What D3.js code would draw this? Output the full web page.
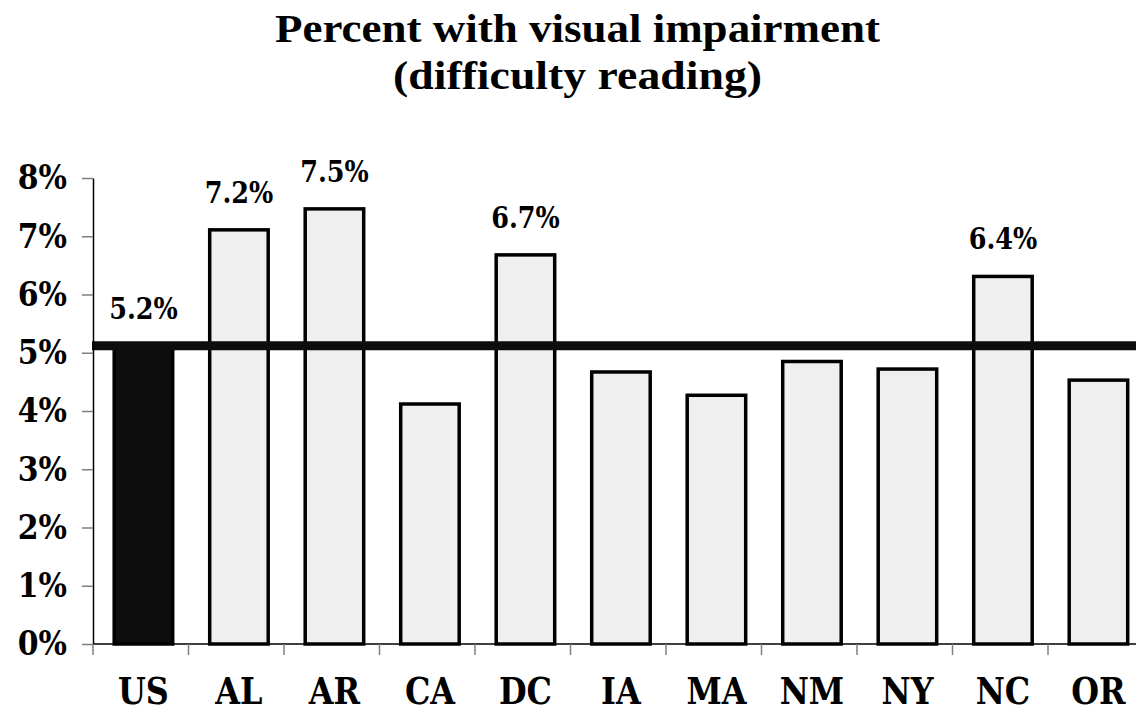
<!DOCTYPE html>
<html>
<head>
<meta charset="utf-8">
<script src="https://cdn.jsdelivr.net/npm/d3@7"></script>
<style>
  body { margin: 0; background: #fff; }
  svg { display: block; }
</style>
</head>
<body>
<div id="chart"></div>
<script>
// Data
var categories = ["US", "AL", "AR", "CA", "DC", "IA", "MA", "NM", "NY", "NC", "OR"];
var values = [5.12, 7.11, 7.47, 4.12, 6.68, 4.67, 4.27, 4.85, 4.72, 6.31, 4.53];
var valueLabels = ["5.2%", "7.2%", "7.5%", "", "6.7%", "", "", "", "", "6.4%", ""];
var usLevel = 5.12;
var yTicks = [0, 1, 2, 3, 4, 5, 6, 7, 8];
var titleLines = ["Percent with visual impairment", "(difficulty reading)"];

var width = 1136, height = 713;
var squeeze = 0.88; // the fonts in the picture are narrow and tall
var squeezeCat = 0.84;

var svg = d3.select("#chart").append("svg")
    .attr("width", width)
    .attr("height", height);

// Title
var title = svg.append("g").attr("class", "title");
title.append("text")
    .attr("x", 577.5).attr("y", 42)
    .attr("text-anchor", "middle")
    .attr("textLength", 605).attr("lengthAdjust", "spacingAndGlyphs")
    .style("font-family", "'Liberation Serif', serif")
    .style("font-weight", "bold")
    .style("font-size", "39px")
    .text(titleLines[0]);
title.append("text")
    .attr("x", 577.5).attr("y", 89)
    .attr("text-anchor", "middle")
    .attr("textLength", 369).attr("lengthAdjust", "spacingAndGlyphs")
    .style("font-family", "'Liberation Serif', serif")
    .style("font-weight", "bold")
    .style("font-size", "39px")
    .text(titleLines[1]);

// Scales
var x = d3.scaleBand()
    .domain(categories)
    .range([93, 1143.5])
    .padding(0);

var y = d3.scaleLinear()
    .domain([0, 8])
    .range([644, 178]);

var barW = 58.5;
var barShift = 2.7;
function barX(d) { return x(d) + (x.bandwidth() - barW) / 2 + barShift; }

// Bars
svg.append("g").selectAll("rect")
    .data(categories)
  .enter().append("rect")
    .attr("x", function(d) { return barX(d); })
    .attr("y", function(d, i) { return y(values[i]); })
    .attr("width", barW)
    .attr("height", function(d, i) { return y(0) - y(values[i]); })
    .attr("fill", function(d, i) { return i === 0 ? "#0d0d0d" : "#efefef"; })
    .attr("stroke", "#000")
    .attr("stroke-width", 3.5);

// US reference line
svg.append("line")
    .attr("x1", x.range()[0] - 1)
    .attr("x2", width)
    .attr("y1", y(usLevel))
    .attr("y2", y(usLevel))
    .attr("stroke", "#0d0d0d")
    .attr("stroke-width", 9);

// Value labels
svg.append("g").selectAll("text")
    .data(categories)
  .enter().append("text")
    .attr("transform", function(d, i) {
      return "translate(" + (barX(d) + barW / 2) + "," + (y(values[i]) - 27) + ") scale(" + squeeze + ",1)";
    })
    .attr("text-anchor", "middle")
    .style("font-family", "'DejaVu Serif', serif")
    .style("font-weight", "bold")
    .style("font-size", "29px")
    .text(function(d, i) { return valueLabels[i]; });

// Y axis
var yAxis = svg.append("g")
    .attr("transform", "translate(" + x.range()[0] + ",0)")
    .call(d3.axisLeft(y)
      .tickValues(yTicks)
      .tickFormat(function(d) { return d + "%"; })
      .tickSize(11)
      .tickPadding(15)
      .tickSizeOuter(0));
yAxis.select(".domain").attr("stroke", "#000").attr("stroke-width", 1.5);
yAxis.selectAll(".tick line").attr("stroke", "#7f7f7f").attr("stroke-width", 1.5);
yAxis.selectAll(".tick text")
    .attr("x", -26 / squeeze)
    .attr("transform", "scale(" + squeeze + ",1)")
    .attr("fill", "#000")
    .style("font-family", "'DejaVu Serif', serif")
    .style("font-weight", "bold")
    .style("font-size", "34px");

// X axis: baseline, boundary ticks and labels
var xAxis = svg.append("g")
    .attr("transform", "translate(0," + y(0) + ")");
xAxis.append("line")
    .attr("x1", x.range()[0])
    .attr("x2", width)
    .attr("stroke", "#000")
    .attr("stroke-width", 1.5);
xAxis.selectAll(".bound")
    .data(categories)
  .enter().append("line")
    .attr("class", "bound")
    .attr("x1", function(d) { return x(d); })
    .attr("x2", function(d) { return x(d); })
    .attr("y1", 0)
    .attr("y2", 11)
    .attr("stroke", "#7f7f7f")
    .attr("stroke-width", 1.5);
xAxis.selectAll(".cat")
    .data(categories)
  .enter().append("text")
    .attr("class", "cat")
    .attr("transform", function(d) {
      return "translate(" + (barX(d) + barW / 2) + ",60) scale(" + squeezeCat + ",1)";
    })
    .attr("text-anchor", "middle")
    .style("font-family", "'DejaVu Serif', serif")
    .style("font-weight", "bold")
    .style("font-size", "38px")
    .text(function(d) { return d; });
</script>
</body>
</html>
